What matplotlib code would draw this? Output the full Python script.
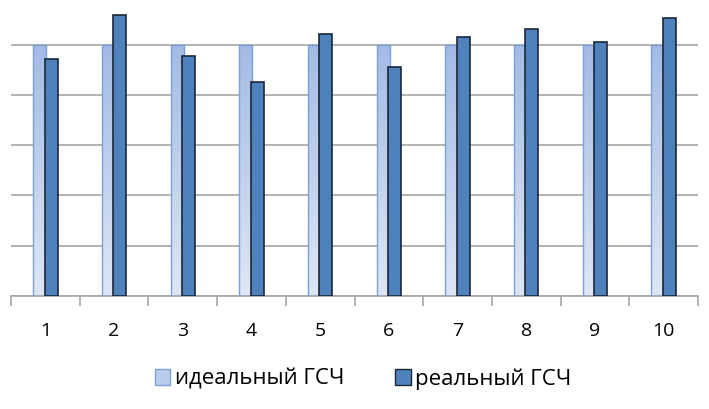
import matplotlib.pyplot as plt
import numpy as np
from matplotlib.colors import LinearSegmentedColormap
from matplotlib.patches import Patch

plt.rcParams['font.family'] = ['Open Sans', 'DejaVu Sans']

categories = ['1', '2', '3', '4', '5', '6', '7', '8', '9', '10']
ideal = [1000, 1000, 1000, 1000, 1000, 1000, 1000, 1000, 1000, 1000]
real = [942, 1116, 953, 851, 1042, 911, 1030, 1062, 1010, 1104]
series_names = ['идеальный ГСЧ', 'реальный ГСЧ']

fig = plt.figure(figsize=(7.09, 4.09), dpi=100)
ax = fig.add_axes([11 / 709, 113 / 409, 687 / 709, 296 / 409])

x = np.arange(len(categories))
w = 0.19
off = 0.083

# light series uses a vertical gradient like the Excel original
light_cmap = LinearSegmentedColormap.from_list('lg', ['#dee6f4', '#a3bbe4'])
bars_i = ax.bar(x - off, ideal, w, color='none', edgecolor='#7aa0d6', linewidth=1.0, zorder=3)
for b in bars_i:
    grad = np.linspace(0, 1, 100).reshape(-1, 1)
    im = ax.imshow(grad, cmap=light_cmap, origin='lower', aspect='auto',
                   extent=[b.get_x(), b.get_x() + b.get_width(), 0, b.get_height()], zorder=2)
    im.set_clip_path(b)
bars_r = ax.bar(x + off, real, w, color='#4f81bd', edgecolor='#1c2738', linewidth=1.2, zorder=4)

ax.set_xlim(-0.5, len(categories) - 0.5)
ax.set_ylim(0, 1177)
ax.set_yticks(np.arange(0, 1001, 200))
ax.yaxis.grid(True, color='#a6a6a6', linewidth=1.2)
ax.set_axisbelow(True)
ax.tick_params(axis='y', left=False, labelleft=False)
for s in ['left', 'right', 'top']:
    ax.spines[s].set_visible(False)
ax.spines['bottom'].set_color('#a6a6a6')
ax.spines['bottom'].set_linewidth(1.2)

ax.set_xticks(np.arange(-0.5, len(categories), 1))
ax.tick_params(axis='x', which='major', length=7, color='#a6a6a6', width=1.2, labelbottom=False)
ax.set_xticks(x, minor=True)
ax.set_xticklabels(categories, minor=True, fontsize=14)
ax.tick_params(axis='x', which='minor', length=0, pad=19)

handles = [Patch(facecolor='#bccdeb', edgecolor='#7aa0d6'),
           Patch(facecolor='#4f81bd', edgecolor='#1c2738')]
fig.legend(handles, series_names, loc='center', bbox_to_anchor=(363 / 709, 1 - 379 / 409),
           ncol=2, frameon=False, fontsize=16, handlelength=0.7, handleheight=0.7,
           handletextpad=0.2, columnspacing=2.3)

fig.savefig('out.png', dpi=100)
